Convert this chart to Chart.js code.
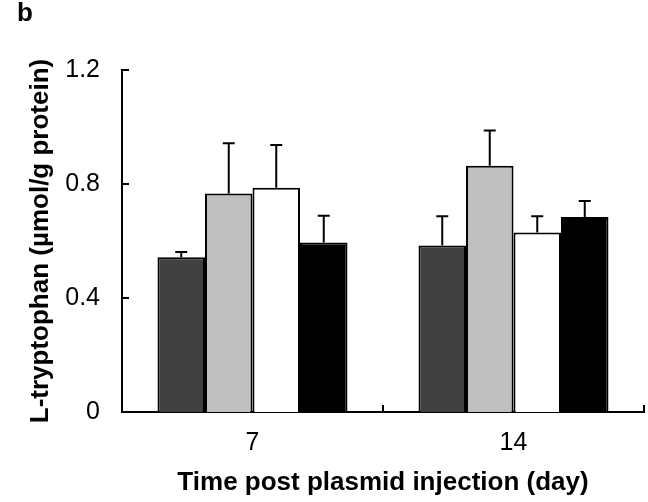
<!DOCTYPE html>
<html>
<head>
<meta charset="utf-8">
<script src="https://cdn.jsdelivr.net/npm/chart.js@4.4.0/dist/chart.umd.min.js"></script>
<style>
  body { margin: 0; background: #fff; }
  #wrap { width: 648px; height: 502px; }
</style>
</head>
<body>
<div id="wrap"><canvas id="graph"></canvas></div>
<script>
// values
var days = ['7', '14'];
var darkGray = [0.543, 0.584];
var lightGray = [0.767, 0.864];
var white = [0.787, 0.630];
var black = [0.595, 0.684];
var darkGrayErr = [0.018, 0.103];
var lightGrayErr = [0.176, 0.124];
var whiteErr = [0.150, 0.057];
var blackErr = [0.094, 0.056];
var yTicks = [0, 0.4, 0.8, 1.2];

var fontName = "'Liberation Sans', Arial, sans-serif";

// upward error bars + inward axis ticks + panel letter
const extras = {
    id: 'extras',
    afterDatasetsDraw(chart) {
        const ctx = chart.ctx;
        const y = chart.scales.y;
        const x = chart.scales.x;
        ctx.save();
        ctx.strokeStyle = '#000';
        ctx.lineWidth = 2;
        chart.data.datasets.forEach((ds, i) => {
            const meta = chart.getDatasetMeta(i);
            meta.data.forEach((bar, j) => {
                const top = y.getPixelForValue(ds.data[j] + ds.errors[j]);
                ctx.beginPath();
                ctx.moveTo(bar.x, bar.y);
                ctx.lineTo(bar.x, top);
                ctx.moveTo(bar.x - 6, top);
                ctx.lineTo(bar.x + 6, top);
                ctx.stroke();
            });
        });
        // y ticks pointing into the plot
        yTicks.forEach(v => {
            if (v === 0) return;
            const py = y.getPixelForValue(v);
            ctx.beginPath();
            ctx.moveTo(y.right, py);
            ctx.lineTo(y.right + 7, py);
            ctx.stroke();
        });
        // x tick between the categories
        for (let k = 0; k < days.length; k++) {
            const px = (x.getPixelForValue(k) + x.getPixelForValue(k + 1)) / 2;
            ctx.beginPath();
            ctx.moveTo(px, x.top);
            ctx.lineTo(px, x.top - 7);
            ctx.stroke();
        }
        ctx.fillStyle = '#000';
        ctx.font = 'bold 26px ' + fontName;
        ctx.textBaseline = 'top';
        ctx.fillText('b', 17, 1);
        ctx.restore();
    }
};

new Chart(document.getElementById('graph'), {
    type: 'bar',
    data: {
        labels: days,
        datasets: [
            { label: 'Group 1', data: darkGray, errors: darkGrayErr, backgroundColor: '#404040' },
            { label: 'Group 2', data: lightGray, errors: lightGrayErr, backgroundColor: '#bfbfbf' },
            { label: 'Group 3', data: white, errors: whiteErr, backgroundColor: '#ffffff' },
            { label: 'Group 4', data: black, errors: blackErr, backgroundColor: '#000000' }
        ].map(d => Object.assign(d, {
            borderColor: '#000',
            borderWidth: 2,
            barPercentage: 1.0,
            categoryPercentage: 0.728
        }))
    },
    options: {
        responsive: true,
        maintainAspectRatio: false,
        animation: false,
        layout: { padding: { left: 0, right: 4, top: 70, bottom: 0 } },
        plugins: { legend: { display: false }, tooltip: { enabled: false } },
        scales: {
            y: {
                min: 0,
                max: 1.2,
                afterBuildTicks: s => { s.ticks = yTicks.map(v => ({ value: v })); },
                afterFit: s => { s.width = 122; },
                grid: { display: false, drawTicks: false },
                border: { display: true, color: '#000', width: 2 },
                ticks: { color: '#000', padding: 22, font: { family: fontName, size: 25 } },
                title: {
                    display: true,
                    text: 'L-tryptophan (µmol/g protein)',
                    color: '#000',
                    padding: { top: 25, bottom: 0 },
                    font: { family: fontName, size: 26, weight: 'bold' }
                }
            },
            x: {
                afterFit: s => { s.height = 90; },
                grid: { display: false, drawTicks: false },
                border: { display: true, color: '#000', width: 2 },
                ticks: { color: '#000', padding: 16, font: { family: fontName, size: 25 } },
                title: {
                    display: true,
                    text: 'Time post plasmid injection (day)',
                    color: '#000',
                    padding: { top: 0, bottom: 4 },
                    font: { family: fontName, size: 26, weight: 'bold' }
                }
            }
        }
    },
    plugins: [extras]
});
</script>
</body>
</html>
